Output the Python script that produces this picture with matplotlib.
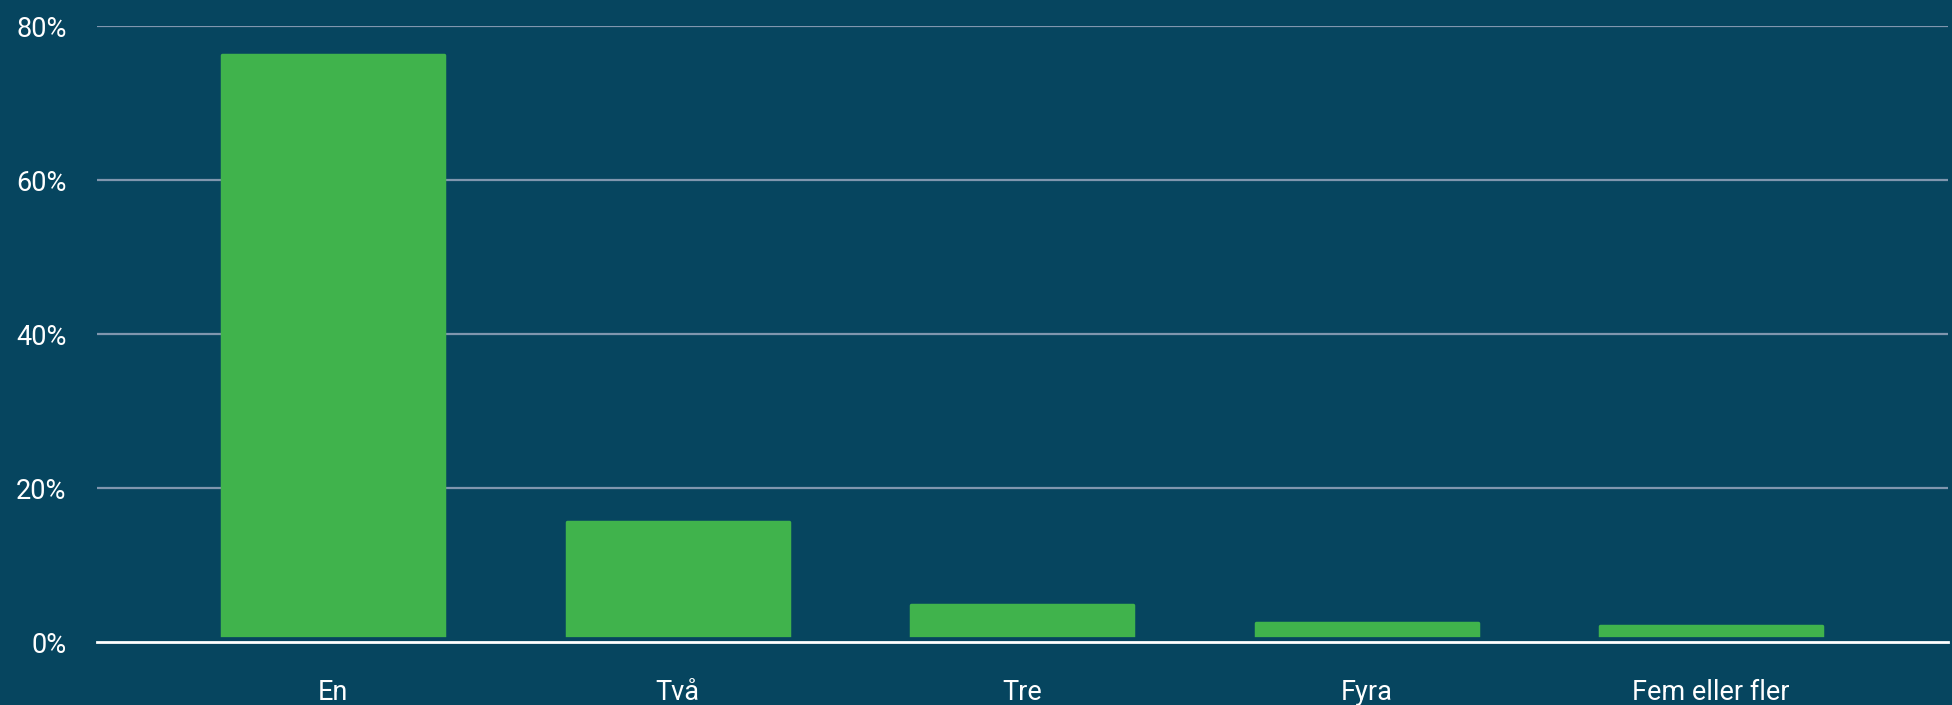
import matplotlib.pyplot as plt
import numpy as np

plt.rcParams['font.family'] = ['Roboto', 'DejaVu Sans']

categories = ['En', 'Två', 'Tre', 'Fyra', 'Fem eller fler']
shares = [76.3, 15.6, 4.8, 2.5, 2.2]
yticks = [0, 20, 40, 60, 80]
ytick_labels = ['0%', '20%', '40%', '60%', '80%']

bg = '#06455f'
green = '#40b34c'

fig = plt.figure(figsize=(19.52, 7.05), dpi=100, facecolor=bg)
ax = fig.add_axes([0.0497, 0.0887, 0.948, 0.874], facecolor=bg)

x = np.arange(len(categories))
ax.bar(x, shares, width=0.645, color=green, edgecolor=green, linewidth=2.5,
       joinstyle='round', zorder=2)

ax.set_xlim(-0.686, 4.686)
ax.set_ylim(0, 80)
ax.set_yticks(yticks)
ax.set_yticklabels(ytick_labels)
ax.set_xticks(x)
ax.set_xticklabels(categories)

for v in yticks[1:]:
    ax.axhline(v, color='#7f96ae', linewidth=1.6, zorder=1)
# small gap between bars and the baseline
ax.axhline(0, color=bg, linewidth=7, zorder=3, clip_on=False)
ax.axhline(0, color='white', linewidth=2.0, zorder=4, clip_on=False)

for s in ax.spines.values():
    s.set_visible(False)
ax.tick_params(axis='both', length=0, colors='white', labelsize=19.5)
ax.tick_params(axis='y', pad=22)
ax.tick_params(axis='x', pad=26)

fig.savefig('out.png', dpi=100, facecolor=bg)
